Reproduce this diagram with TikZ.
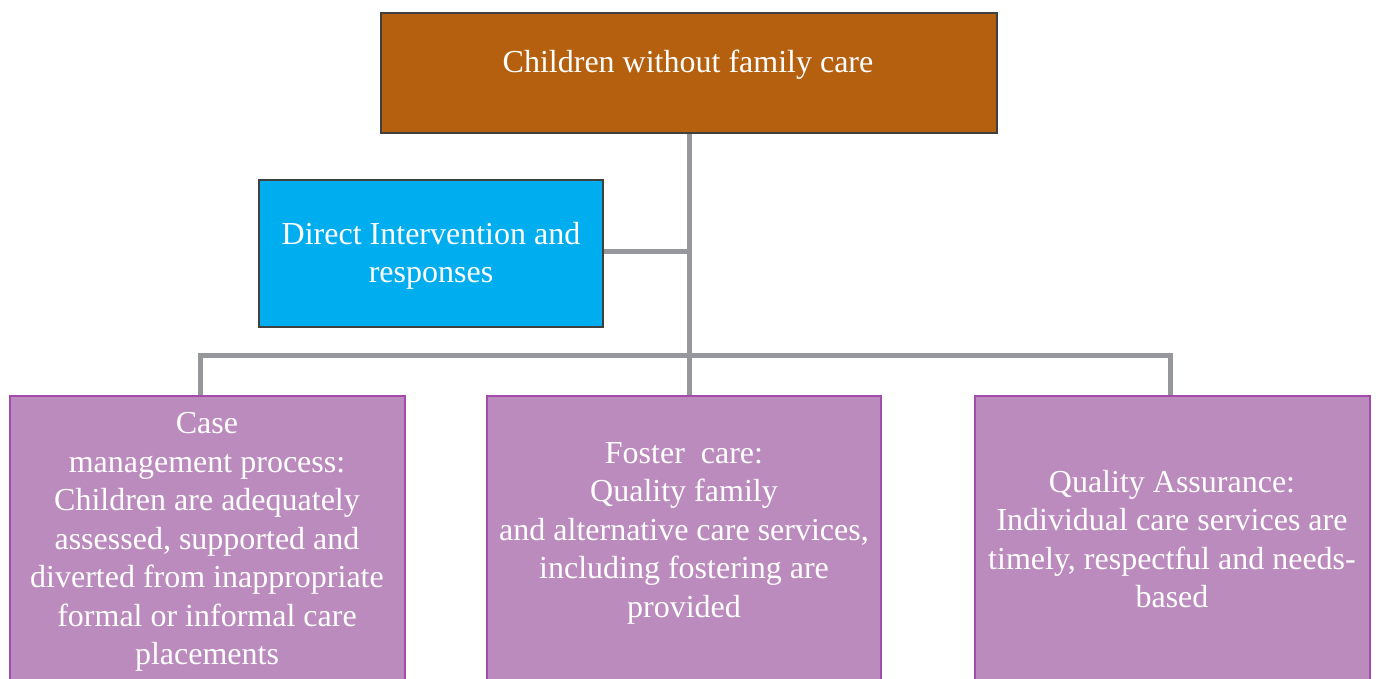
\documentclass[tikz,border=0pt]{standalone}
\usepackage{fontspec}
\setmainfont{Liberation Serif}
\definecolor{brownbox}{HTML}{B5600F}
\definecolor{bluebox}{HTML}{00AEEF}
\definecolor{purplebox}{HTML}{BB8BBD}
\definecolor{purpleline}{HTML}{A24BAA}
\definecolor{darkline}{HTML}{404040}
\definecolor{connline}{HTML}{96979A}
\begin{document}
\begin{tikzpicture}[x=1pt,y=-1pt,
  box/.style={rectangle, inner sep=0pt, outer sep=0pt},
  topbox/.style={box, fill=brownbox, draw=darkline, line width=1.5pt},
  bluestyle/.style={box, fill=bluebox, draw=darkline, line width=1.5pt},
  purplestyle/.style={box, fill=purplebox, draw=purpleline, line width=1.5pt},
  txt/.style={text=white, align=center, inner sep=0pt, font=\fontsize{32}{38.5}\selectfont},
  conn/.style={draw=connline, line width=5pt}]
\useasboundingbox (0,0) rectangle (1376,678);
\fill[white] (0,0) rectangle (1376,678);
% boxes (shapes)
\node[topbox, minimum width=616pt, minimum height=120pt] (top) at (689,73) {};
\node[bluestyle, minimum width=344pt, minimum height=147pt] (blue) at (431,253.5) {};
\node[purplestyle, minimum width=395pt, minimum height=290pt] (left) at (207.5,541) {};
\node[purplestyle, minimum width=394pt, minimum height=290pt] (mid) at (684,541) {};
\node[purplestyle, minimum width=395pt, minimum height=290pt] (right) at (1172.5,541) {};
% connectors
\coordinate (jL) at (200,355);
\coordinate (jR) at (1170,355);
\draw[conn] (top.south) -- (top.south |- mid.north);
\draw[conn] ([yshift=2.5pt]blue.east) -- ([yshift=2.5pt]blue.east -| top.south);
\draw[conn] (jL |- left.north) -- (jL) -- (jR) -- (jR |- right.north);
% redraw boxes over connector ends
\node[topbox, minimum width=616pt, minimum height=120pt] at (top) {};
\node[bluestyle, minimum width=344pt, minimum height=147pt] at (blue) {};
\node[purplestyle, minimum width=395pt, minimum height=290pt] at (left) {};
\node[purplestyle, minimum width=394pt, minimum height=290pt] at (mid) {};
\node[purplestyle, minimum width=395pt, minimum height=290pt] at (right) {};
% texts
\node[txt, anchor=base] (toptext) at (688,72) {Children without family care};
\node[txt] (bluetext) at (431,256) {Direct Intervention and\\responses};
\node[txt] (lefttext) at (207,542) {Case\\management process:\\Children are adequately\\assessed, supported and\\diverted from inappropriate\\formal or informal care\\placements};
\node[txt] (midtext) at (684,533) {Foster\ \ care:\\Quality family\\and alternative care services,\\including fostering are\\provided};
\node[txt] (righttext) at (1172,539) {Quality Assurance:\\Individual care services are\\timely, respectful and needs-\\based};
\end{tikzpicture}
\end{document}
